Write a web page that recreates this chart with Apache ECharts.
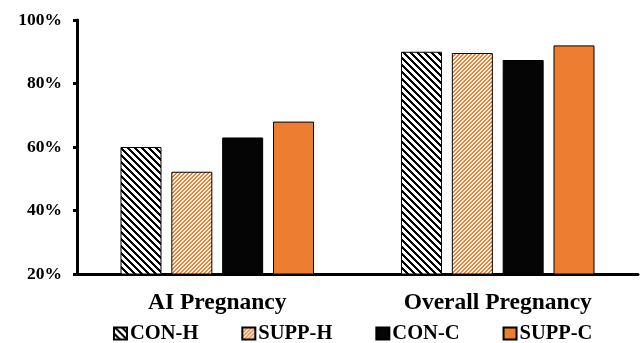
<!DOCTYPE html>
<html>
<head>
<meta charset="utf-8">
<script src="https://cdn.jsdelivr.net/npm/echarts@6/dist/echarts.min.js"></script>
<style>
  html, body { margin: 0; padding: 0; background: #fff; }
  #chart { width: 640px; height: 343px; }
</style>
</head>
<body>
<div id="chart"></div>
<script>
// Pregnancy rates (%) by treatment group
const categories = ['AI Pregnancy', 'Overall Pregnancy'];
const seriesNames = ['CON-H', 'SUPP-H', 'CON-C', 'SUPP-C'];
const conH  = [60.0, 90.0];
const suppH = [52.2, 89.6];
const conC  = [63.0, 87.4];
const suppC = [68.0, 92.0];
const yTicks = [20, 40, 60, 80, 100];

// Diagonal stripe tile; dir = 1 draws "\" stripes, dir = -1 draws "/" stripes
function stripes(period, width, fg, bg, dir) {
  const c = document.createElement('canvas');
  c.width = period; c.height = period;
  const ctx = c.getContext('2d');
  ctx.fillStyle = bg;
  ctx.fillRect(0, 0, period, period);
  ctx.fillStyle = fg;
  for (let y = 0; y < period; y++) {
    for (let x = 0; x < period; x++) {
      const k = dir > 0 ? (x - y) : (x + y);
      if (((k % period) + period) % period < width) ctx.fillRect(x, y, 1, 1);
    }
  }
  return { image: c, repeat: 'repeat' };
}

const fills = [
  stripes(7, 3, '#000000', '#ffffff', 1),
  stripes(4, 2, '#ee8236', '#fff3ea', -1),
  '#050505',
  '#ed7d31'
];
const values = [conH, suppH, conC, suppC];

const serif = '"Liberation Serif", "Times New Roman", serif';

const chart = echarts.init(document.getElementById('chart'));
chart.setOption({
  animation: false,
  grid: { left: 77, right: 2, top: 20, bottom: 69 },
  legend: {
    data: seriesNames,
    left: 113,
    top: 323,
    padding: 0,
    itemWidth: 13,
    itemHeight: 12,
    itemGap: 43,
    icon: 'rect',
    textStyle: { fontFamily: serif, fontWeight: 'bold', fontSize: 20.5, color: '#000', padding: [0, 0, 0, -2] }
  },
  xAxis: {
    type: 'category',
    data: categories,
    axisLine: { lineStyle: { color: '#000', width: 3 } },
    axisTick: { show: false },
    axisLabel: { fontFamily: serif, fontWeight: 'bold', fontSize: 23.5, color: '#000', margin: 17 }
  },
  yAxis: {
    type: 'value',
    min: 20,
    max: 100,
    interval: 20,
    splitLine: { show: false },
    axisLine: { show: true, lineStyle: { color: '#000', width: 3 } },
    axisTick: { show: true, length: 4, lineStyle: { color: '#000', width: 3 } },
    axisLabel: {
      fontFamily: serif, fontWeight: 'bold', fontSize: 17.5, color: '#000', margin: 15,
      formatter: v => (yTicks.includes(v) ? v + '%' : '')
    }
  },
  series: seriesNames.map((name, i) => ({
    name,
    type: 'bar',
    data: values[i],
    barWidth: 41,
    barGap: '24%',
    itemStyle: { color: fills[i], borderColor: '#000', borderWidth: 1 }
  }))
});
</script>
</body>
</html>
